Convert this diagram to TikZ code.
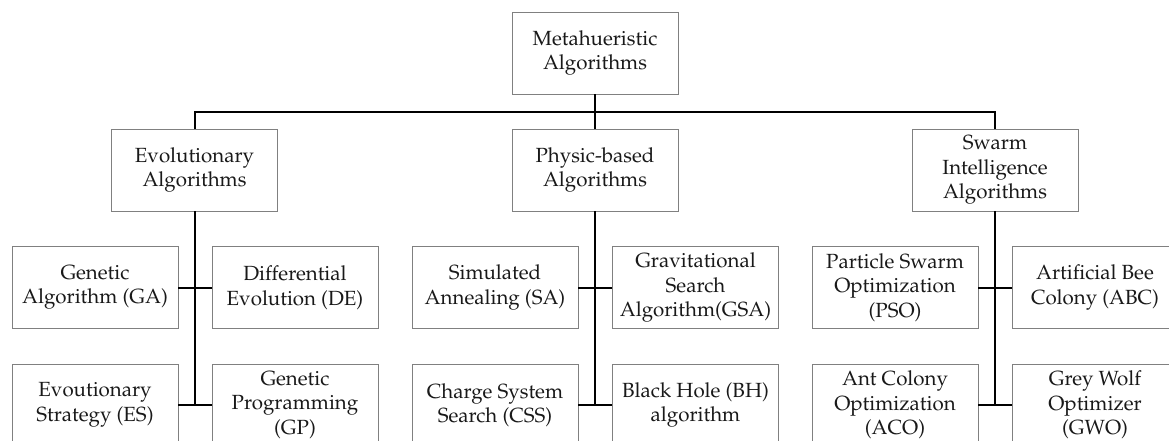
\documentclass[tikz,border=0pt]{standalone}
\usepackage[T1]{fontenc}
\usepackage{mathpazo}
\begin{document}
\begin{tikzpicture}[x=1pt,y=-1pt,
  box/.style={draw=black!50, line width=0.9pt, fill=white, rectangle,
    minimum width=166pt, minimum height=82pt, inner sep=0pt, align=center,
    font=\fontsize{20.5}{24.5}\selectfont, text=black!90},
  conn/.style={draw=black, line width=2pt}]
\useasboundingbox (0,0) rectangle (1169,441);
\clip (0,0) rectangle (1169,441);
% nodes
\node[box] (meta) at (595,53) {Metahueristic\\Algorithms};
\node[box] (evo) at (194.5,170) {Evolutionary\\Algorithms};
\node[box] (phy) at (595,170) {Physic-based\\Algorithms};
\node[box] (swa) at (995,170) {Swarm\\Intelligence\\Algorithms};
\node[box] (ga) at (95,287.5) {Genetic\\Algorithm (GA)};
\node[box] (de) at (295,287.5) {Differential\\Evolution (DE)};
\node[box] (es) at (95,405) {Evoutionary\\Strategy (ES)};
\node[box] (gp) at (295,405) {Genetic\\Programming\\(GP)};
\node[box] (sa) at (495,287.5) {Simulated\\Annealing (SA)};
\node[box] (gsa) at (695.5,287.5) {Gravitational\\Search\\Algorithm(GSA)};
\node[box] (css) at (495,405) {Charge System\\Search (CSS)};
\node[box] (bh) at (695.5,405) {Black Hole (BH)\\algorithm};
\node[box] (pso) at (895,287.5) {Particle Swarm\\Optimization\\(PSO)};
\node[box] (abc) at (1095,287.5) {Artificial Bee\\Colony (ABC)};
\node[box] (aco) at (895,405) {Ant Colony\\Optimization\\(ACO)};
\node[box] (gwo) at (1095,405) {Grey Wolf\\Optimizer\\(GWO)};
% coordinates
\coordinate (bus) at (595,112);
\coordinate (evoL2) at (194.5,405);
\coordinate (phyL2) at (595,405);
\coordinate (swaL2) at (995,405);
% connectors
\draw[conn] (meta.south) -- (phy.north);
\draw[conn] (evo.north) |- (bus) -| (swa.north);
\draw[conn] (evo.south) -- (evoL2);
\draw[conn] (ga.east) -- (de.west);
\draw[conn] (es.east) -- (gp.west);
\draw[conn] (phy.south) -- (phyL2);
\draw[conn] (sa.east) -- (gsa.west);
\draw[conn] (css.east) -- (bh.west);
\draw[conn] (swa.south) -- (swaL2);
\draw[conn] (pso.east) -- (abc.west);
\draw[conn] (aco.east) -- (gwo.west);
\end{tikzpicture}
\end{document}
